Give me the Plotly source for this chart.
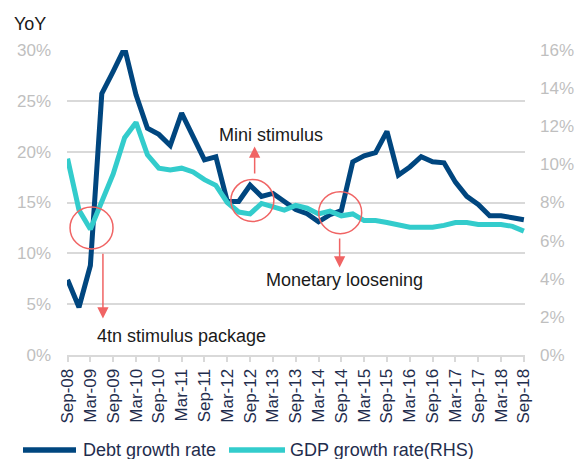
import plotly.graph_objects as go

# ---------------------------------------------------------
# Data
# ---------------------------------------------------------

QUARTERS = [
    "Sep-08", "Dec-08", "Mar-09", "Jun-09", "Sep-09", "Dec-09", "Mar-10",
    "Jun-10", "Sep-10", "Dec-10", "Mar-11", "Jun-11", "Sep-11", "Dec-11",
    "Mar-12", "Jun-12", "Sep-12", "Dec-12", "Mar-13", "Jun-13", "Sep-13",
    "Dec-13", "Mar-14", "Jun-14", "Sep-14", "Dec-14", "Mar-15", "Jun-15",
    "Sep-15", "Dec-15", "Mar-16", "Jun-16", "Sep-16", "Dec-16", "Mar-17",
    "Jun-17", "Sep-17", "Dec-17", "Mar-18", "Jun-18", "Sep-18",
]

DEBT_GROWTH = [
    7.4, 4.7, 8.8, 25.7, 27.9, 30.2, 25.6,
    22.3, 21.7, 20.6, 23.8, 21.5, 19.2, 19.5,
    15.1, 15.1, 16.7, 15.6, 15.9, 15.1, 14.3,
    13.9, 13.1, 13.8, 14.2, 19.0, 19.6, 19.9,
    22.0, 17.7, 18.5, 19.5, 19.0, 18.9, 17.0,
    15.6, 14.8, 13.7, 13.7, 13.5, 13.3,
]

GDP_GROWTH = [
    10.3, 7.6, 6.6, 8.0, 9.5, 11.4, 12.2,
    10.5, 9.8, 9.7, 9.8, 9.6, 9.2, 8.9,
    8.0, 7.5, 7.4, 7.95, 7.8, 7.6, 7.85,
    7.7, 7.4, 7.55, 7.3, 7.4, 7.05, 7.05,
    6.95, 6.8, 6.7, 6.7, 6.7, 6.8, 6.95,
    6.95, 6.85, 6.85, 6.85, 6.75, 6.5,
]

TICK_LABELS = QUARTERS[::2]

LEFT_TICKS = [0, 5, 10, 15, 20, 25, 30]
RIGHT_TICKS = [0, 2, 4, 6, 8, 10, 12, 14, 16]

DEBT_COLOR = "#00467F"
GDP_COLOR = "#33CCCC"
RED = "#F06464"
GRID = "#D9D9D9"
TICK_GREY = "#BFBFBF"
NAVY_TEXT = "#1F2D4D"
FONT = "Liberation Sans, Arial, sans-serif"

# plot area in pixels: left 67, right 525, top 50, bottom 355
L, R, T, B = 67, 525, 50, 355


def px_x(p):
    return (p - L) / (R - L)


def px_y(p):
    return (B - p) / (B - T)


# ---------------------------------------------------------
# Figure
# ---------------------------------------------------------

fig = go.Figure()

fig.add_trace(go.Scatter(
    x=QUARTERS,
    y=DEBT_GROWTH,
    name="Debt growth rate",
    mode="lines",
    line=dict(color=DEBT_COLOR, width=5),
    showlegend=False,
))

fig.add_trace(go.Scatter(
    x=QUARTERS,
    y=GDP_GROWTH,
    name="GDP growth rate(RHS)",
    mode="lines",
    line=dict(color=GDP_COLOR, width=5),
    yaxis="y2",
    showlegend=False,
))

# ---------------------------------------------------------
# Highlight circles
# ---------------------------------------------------------

circles = [
    (2.1, 12.5),
    (16.2, 15.2),
    (23.9, 14.0),
]
for cx, cy in circles:
    fig.add_shape(
        type="circle",
        xref="x", yref="y",
        xsizemode="pixel", ysizemode="pixel",
        xanchor=cx, yanchor=cy,
        x0=-21.5, x1=21.5, y0=-21, y1=21,
        line=dict(color=RED, width=1.5),
    )

# ---------------------------------------------------------
# Arrows + labels
# ---------------------------------------------------------

arrows = [
    # (x, tail y, head y)
    (3.1, 10.1, 3.6),
    (16.4, 17.7, 20.5),
    (23.85, 11.6, 8.6),
]
for ax_, y_tail, y_head in arrows:
    fig.add_annotation(
        x=ax_, y=y_head, ax=ax_, ay=y_tail,
        xref="x", yref="y", axref="x", ayref="y",
        text="", showarrow=True,
        arrowhead=2, arrowsize=1.5, arrowwidth=1.5,
        arrowcolor=RED, standoff=0, startstandoff=0,
    )

labels = [
    ("4tn stimulus package", 9.95, 1.9),
    ("Mini stimulus", 17.8, 21.6),
    ("Monetary loosening", 24.25, 7.4),
]
for txt, lx, ly in labels:
    fig.add_annotation(
        x=lx, y=ly, xref="x", yref="y",
        text=txt, showarrow=False,
        xanchor="center", yanchor="middle",
        font=dict(family=FONT, size=18, color="#1A1A1A"),
    )

fig.add_annotation(
    x=px_x(12), y=px_y(24), xref="paper", yref="paper",
    text="YoY", showarrow=False,
    xanchor="left", yanchor="middle",
    font=dict(family=FONT, size=18, color="#1A1A1A"),
)

# ---------------------------------------------------------
# Legend (drawn by hand to match the long line samples)
# ---------------------------------------------------------

legend_y = px_y(450)
legend_items = [
    ("Debt growth rate", DEBT_COLOR, 23, 76, 81),
    ("GDP growth rate(RHS)", GDP_COLOR, 229, 285, 288),
]
for txt, color, x0, x1, tx in legend_items:
    fig.add_shape(
        type="line",
        xref="paper", yref="paper",
        x0=px_x(x0), x1=px_x(x1), y0=legend_y, y1=legend_y,
        line=dict(color=color, width=5.5),
    )
    fig.add_annotation(
        x=px_x(tx), y=legend_y, xref="paper", yref="paper",
        text=txt, showarrow=False,
        xanchor="left", yanchor="middle",
        font=dict(family=FONT, size=18, color=NAVY_TEXT),
    )

# ---------------------------------------------------------
# Layout
# ---------------------------------------------------------

fig.update_layout(
    width=579,
    height=459,
    margin=dict(l=L, r=579 - R, t=T, b=459 - B),
    paper_bgcolor="white",
    plot_bgcolor="white",
    font=dict(family=FONT),
    showlegend=False,
    hovermode=False,
    xaxis=dict(
        type="category",
        categoryorder="array",
        categoryarray=QUARTERS,
        range=[-0.05, 40.1],
        tickmode="array",
        tickvals=TICK_LABELS,
        ticktext=TICK_LABELS,
        tickangle=-90,
        tickfont=dict(family=FONT, size=17, color=NAVY_TEXT),
        ticks="outside",
        ticklen=5,
        tickwidth=1.5,
        tickcolor=GRID,
        showgrid=False,
        showline=True,
        linecolor=GRID,
        linewidth=2,
        zeroline=False,
        automargin=False,
    ),
    yaxis=dict(
        range=[0, 30],
        tickmode="array",
        tickvals=LEFT_TICKS,
        ticktext=[f"{v}%" for v in LEFT_TICKS],
        tickfont=dict(family=FONT, size=17, color=TICK_GREY),
        ticklabelstandoff=15,
        showgrid=True,
        gridcolor=GRID,
        gridwidth=1.5,
        zeroline=False,
        showline=False,
        automargin=False,
    ),
    yaxis2=dict(
        range=[0, 16],
        tickmode="array",
        tickvals=RIGHT_TICKS,
        ticktext=[f"{v}%" for v in RIGHT_TICKS],
        tickfont=dict(family=FONT, size=17, color=TICK_GREY),
        ticklabelstandoff=14,
        overlaying="y",
        side="right",
        showgrid=False,
        zeroline=False,
        showline=False,
        automargin=False,
    ),
)

# drop the browser's default body margin so the figure sits at (0, 0)
fig.write_html(
    "out.html",
    config={"displayModeBar": False},
    post_script="document.body.style.margin='0';",
)
